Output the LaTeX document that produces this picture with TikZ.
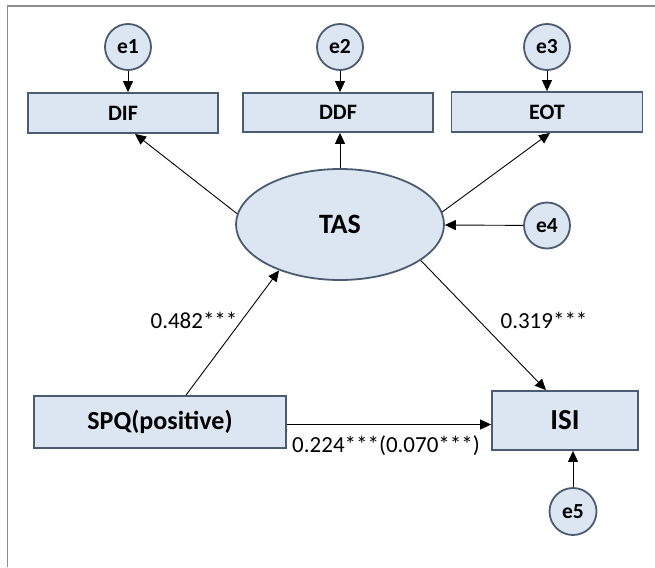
\documentclass[tikz,border=0pt]{standalone}
\usepackage{fontspec}
\setmainfont{Carlito}
\usetikzlibrary{arrows.meta,shapes.geometric}
\definecolor{boxfill}{HTML}{DCE6F2}
\definecolor{boxline}{HTML}{4B5B70}
\definecolor{framecol}{HTML}{8C8C8C}
\begin{document}
\begin{tikzpicture}[x=1pt,y=-1pt,
  errnode/.style={circle,draw=boxline,fill=boxfill,line width=1.8pt,minimum size=46pt,inner sep=0pt,font=\fontsize{21.5}{25}\selectfont\bfseries},
  obsbox/.style={rectangle,draw=boxline,fill=boxfill,line width=1.8pt,inner sep=0pt,font=\fontsize{22}{26}\selectfont\bfseries},
  latent/.style={ellipse,draw=boxline,fill=boxfill,line width=1.8pt,inner sep=0pt,minimum width=208pt,minimum height=111pt,font=\fontsize{28}{32}\selectfont\bfseries},
  coef/.style={inner sep=0pt,font=\fontsize{23}{27}\selectfont},
  arr/.style={-{Triangle[length=11pt,width=10pt]},line width=0.9pt,black}]
\useasboundingbox (0,0) rectangle (655,567);
\draw[framecol,line width=1.5pt] (655,6) -- (7.5,6) -- (7.5,567);
% nodes
\node[errnode] (e1) at (128,47) {e1};
\node[errnode] (e2) at (340,47) {e2};
\node[errnode] (e3) at (547,47) {e3};
\node[obsbox,minimum width=190pt,minimum height=40pt] (DIF) at (123,113) {DIF};
\node[obsbox,minimum width=190pt,minimum height=39pt] (DDF) at (338,112.5) {DDF};
\node[obsbox,minimum width=191pt,minimum height=40pt] (EOT) at (547,112) {EOT};
\node[latent] (TAS) at (340,224.5) {TAS};
\node[errnode] (e4) at (547,225.5) {e4};
\node[obsbox,minimum width=252pt,minimum height=52pt,font=\fontsize{26}{30}\selectfont\bfseries] (SPQ) at (160,422) {SPQ(positive)};
\node[obsbox,minimum width=146pt,minimum height=59pt,font=\fontsize{29}{33}\selectfont\bfseries] (ISI) at (565,420.5) {ISI};
\node[errnode,minimum size=47pt] (e5) at (573,511.5) {e5};
% labels
\node[coef] (l1) at (194,320) {0.482***};
\node[coef] (l2) at (544,320) {0.319***};
\node[coef] (l3) at (386,446) {0.224***(0.070***)};
% connectors
\draw[arr] (e1.south) -- (e1.south |- DIF.north);
\draw[arr] (e2.south) -- (e2.south |- DDF.north);
\draw[arr] (e3.south) -- (e3.south |- EOT.north);
\draw[arr] (TAS.174) -- ([xshift=12pt]DIF.south);
\draw[arr] (TAS.north) -- (TAS.north |- DDF.south);
\draw[arr] (TAS.7) -- ([xshift=3pt]EOT.south);
\draw[arr] (e4) -- (TAS);
\draw[arr] ([xshift=26pt]SPQ.north) -- (TAS.217);
\draw[arr] (TAS.336) -- ([xshift=-19pt]ISI.north);
\draw[arr] ([yshift=-2.5pt]SPQ.east) -- ([yshift=-2.5pt]SPQ.east -| ISI.west);
\draw[arr] (e5.north) -- (e5.north |- ISI.south);
\end{tikzpicture}
\end{document}
